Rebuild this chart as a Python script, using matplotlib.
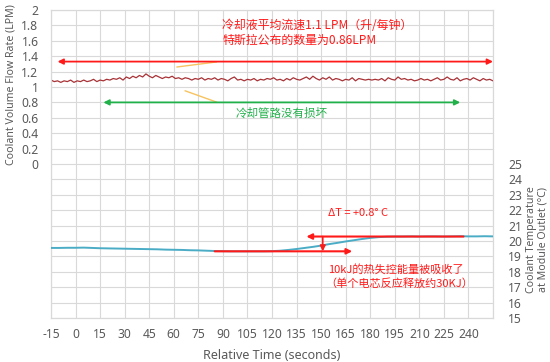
import numpy as np
import matplotlib
matplotlib.use("Agg")
import matplotlib.pyplot as plt
from matplotlib.ticker import FuncFormatter

plt.rcParams['font.family'] = ['Noto Sans', 'Noto Sans CJK SC', 'DejaVu Sans']

# ---------------- data ----------------
flow_time = list(range(-15, 256, 2))
flow_lpm = [
    1.09, 1.07, 1.08, 1.06, 1.08, 1.07, 1.09, 1.06, 1.08, 1.07,
    1.09, 1.07, 1.08, 1.10, 1.07, 1.09, 1.08, 1.10, 1.09, 1.11,
    1.10, 1.12, 1.09, 1.13, 1.11, 1.14, 1.12, 1.15, 1.13, 1.17,
    1.14, 1.12, 1.15, 1.13, 1.11, 1.13, 1.12, 1.14, 1.11, 1.12,
    1.10, 1.12, 1.11, 1.09, 1.11, 1.10, 1.12, 1.09, 1.11, 1.10,
    1.12, 1.09, 1.11, 1.10, 1.08, 1.11, 1.13, 1.09, 1.10, 1.08,
    1.10, 1.09, 1.11, 1.08, 1.10, 1.09, 1.11, 1.10, 1.12, 1.09,
    1.10, 1.08, 1.11, 1.09, 1.12, 1.10, 1.09, 1.11, 1.13, 1.10,
    1.14, 1.11, 1.09, 1.12, 1.10, 1.13, 1.09, 1.11, 1.10, 1.08,
    1.10, 1.09, 1.12, 1.08, 1.11, 1.10, 1.09, 1.10, 1.09, 1.10,
    1.09, 1.11, 1.08, 1.12, 1.10, 1.09, 1.13, 1.10, 1.11, 1.09,
    1.10, 1.08, 1.09, 1.11, 1.09, 1.10, 1.08, 1.10, 1.12, 1.09,
    1.10, 1.13, 1.10, 1.09, 1.12, 1.08, 1.10, 1.11, 1.09, 1.12,
    1.10, 1.08, 1.11, 1.09, 1.10, 1.08,
]

temp_time = list(range(-15, 256, 5))
temp_c = [
    19.55, 19.55, 19.56, 19.56, 19.57, 19.55, 19.53, 19.52, 19.51, 19.50,
    19.49, 19.48, 19.47, 19.46, 19.44, 19.43, 19.42, 19.40, 19.39, 19.37,
    19.35, 19.34, 19.33, 19.33, 19.33, 19.33, 19.33, 19.34, 19.37, 19.42,
    19.48, 19.55, 19.62, 19.70, 19.80, 19.88, 19.97, 20.05, 20.13, 20.20,
    20.25, 20.28, 20.29, 20.29, 20.30, 20.29, 20.30, 20.30, 20.29, 20.30,
    20.31, 20.30, 20.30, 20.31, 20.30,
]

x_ticks = list(range(-15, 256, 15))
x_last_label = 240
left_label_min = 0
right_label_max = 25

# annotation anchors (data units)
red_arrow = (-11, 255, 1.33)
green_arrow = (17, 235, 0.80)
low_line = (85, 169, 19.33)
high_line = (237, 141, 20.29)
delta_x = 151

# ---------------- figure ----------------
fig = plt.figure(figsize=(5.5, 3.62), dpi=100)
ax = fig.add_axes([51/550, 1-318/362, (493-51)/550, (318-10)/362])
ax2 = ax.twinx()

grid_c = '#D9D9D9'
tick_c = '#595959'

ax.set_xlim(-15, 255)
ax.set_ylim(-2, 2)
ax2.set_ylim(15, 35)

ax.set_xticks(x_ticks)
ax.xaxis.set_major_formatter(FuncFormatter(lambda v, p: ('%d' % v) if v <= x_last_label else ''))
ax.set_yticks(np.round(np.arange(-2, 2.01, 0.2), 1))
def left_fmt(v, p):
    v = round(v, 1)
    if v < left_label_min - 0.01:
        return ''
    return '%g' % abs(v) if abs(v) < 1e-9 else '%g' % v
ax.yaxis.set_major_formatter(FuncFormatter(left_fmt))
ax2.set_yticks(range(15, 36))
ax2.yaxis.set_major_formatter(FuncFormatter(lambda v, p: ('%d' % v) if v <= right_label_max + 0.01 else ''))

ax.grid(True, which='major', color=grid_c, lw=0.8)
ax.set_axisbelow(True)
for a in (ax, ax2):
    for s in a.spines.values():
        s.set_color(grid_c)
        s.set_linewidth(0.8)
    a.tick_params(length=0, colors=tick_c, labelsize=8.7)
ax.tick_params(axis='y', pad=9)
ax.tick_params(axis='x', pad=7)
ax2.tick_params(axis='y', pad=11)

ax.plot(flow_time, flow_lpm, color='#A83236', lw=0.9, zorder=3)
ax2.plot(temp_time, temp_c, color='#4BACC6', lw=1.4, zorder=3)

ax.set_xlabel('Relative Time (seconds)', fontsize=9, color=tick_c, labelpad=6)
fig.text(11/550, 1-85/362, 'Coolant Volume Flow Rate (LPM)', rotation=90,
         ha='center', va='center', fontsize=7.6, color=tick_c)
fig.text(537/550, 1-240/362, 'Coolant Temperature\nat Module Outlet (°C)', rotation=90,
         ha='center', va='center', fontsize=7.6, color=tick_c, linespacing=1.05)

red = '#FF1A1A'
green = '#22B04B'
orange = '#F7C35F'

def arrow(a, x0, y0, x1, y1, color, style, lw=1.3):
    a.annotate('', xy=(x1, y1), xytext=(x0, y0),
               arrowprops=dict(arrowstyle=style, color=color, lw=lw,
                               shrinkA=0, shrinkB=0, mutation_scale=8), zorder=5)

arrow(ax, red_arrow[0], red_arrow[2], red_arrow[1], red_arrow[2], red, '<|-|>')
arrow(ax, green_arrow[0], green_arrow[2], green_arrow[1], green_arrow[2], green, '<|-|>')
ax.plot([62, 86], [1.26, 1.325], color=orange, lw=1.0, zorder=4)
ax.plot([67, 86], [0.95, 0.805], color=orange, lw=1.0, zorder=4)

cjk = ['Noto Sans CJK SC', 'DejaVu Sans']
ax.text(89.5, 1.80, '冷却液平均流速1.1 LPM（升/每钟）', color=red, fontsize=8.6,
        family=cjk, va='center', ha='left')
ax.text(89.5, 1.60, '特斯拉公布的数量为0.86LPM', color=red, fontsize=8.6,
        family=cjk, va='center', ha='left')
ax.text(97.5, 0.66, '冷却管路没有损坏', color=green, fontsize=8.3,
        family=cjk, va='center', ha='left')

arrow(ax2, low_line[0], low_line[2], low_line[1], low_line[2], red, '-|>', lw=1.5)
arrow(ax2, high_line[0], high_line[2], high_line[1], high_line[2], red, '-|>', lw=1.5)
arrow(ax2, delta_x, high_line[2], delta_x, low_line[2], red, '-|>', lw=1.2)

ax2.text(154.5, 21.8, 'ΔT = +0.8° C', color=red, fontsize=8, va='center', ha='left', family=cjk)
ax2.text(154.5, 18.15, '10kJ的热失控能量被吸收了', color=red, fontsize=8, va='center', ha='left', family=cjk)
ax2.text(152.5, 17.25, '（单个电芯反应释放约30KJ）', color=red, fontsize=8, va='center', ha='left', family=cjk)

fig.savefig('out.png', dpi=100)
